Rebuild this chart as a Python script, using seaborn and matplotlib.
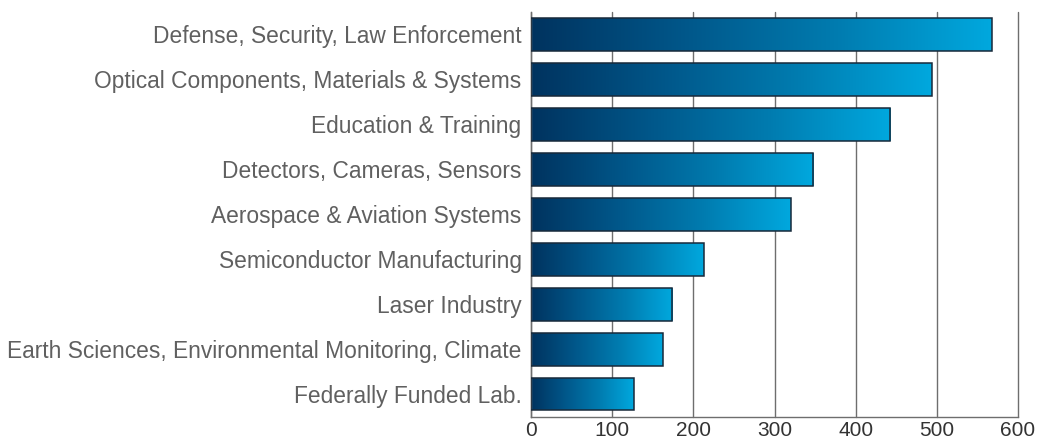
"""
Horizontal gradient bar chart - applications by industry
"""
import numpy as np
import pandas as pd
import matplotlib
matplotlib.use("Agg")
import matplotlib.pyplot as plt
import seaborn as sns
from matplotlib.colors import LinearSegmentedColormap

# Data
categories = [
    "Defense, Security, Law Enforcement",
    "Optical Components, Materials & Systems",
    "Education & Training",
    "Detectors, Cameras, Sensors",
    "Aerospace & Aviation Systems",
    "Semiconductor Manufacturing",
    "Laser Industry",
    "Earth Sciences, Environmental Monitoring, Climate",
    "Federally Funded Lab.",
]
counts = [568, 494, 443, 348, 320, 213, 174, 162, 127]
x_ticks = [0, 100, 200, 300, 400, 500, 600]

sns.set_style("white")
plt.rcParams["font.family"] = ["Liberation Sans", "DejaVu Sans"]

df = pd.DataFrame({"category": categories, "count": counts})

fig = plt.figure(figsize=(10.38, 4.42), dpi=100)
ax = fig.add_axes([0.5118, 0.0573, 0.4687, 0.9156])

sns.barplot(data=df, x="count", y="category", orient="h", ax=ax,
            width=0.725, color="#00a6dc", edgecolor="#18293a", linewidth=1.1,
            zorder=3)

# per-bar left-to-right gradient
cmap = LinearSegmentedColormap.from_list("blues", ["#00335f", "#00578a", "#007cb0", "#00a8de"])
grad = np.linspace(0, 1, 256).reshape(1, -1)
for p in ax.patches:
    x0, y0 = p.get_x(), p.get_y()
    w, h = p.get_width(), p.get_height()
    p.set_facecolor("none")
    im = ax.imshow(grad, cmap=cmap, aspect="auto", extent=[x0, x0 + w, y0 + h, y0],
                   zorder=2.5, interpolation="bicubic")
    im.set_clip_path(p)

ax.set_xlim(0, 600)
ax.set_ylim(len(categories) - 0.5, -0.5)
ax.set_xticks(x_ticks)
ax.set_xticklabels([str(t) for t in x_ticks])

ax.grid(axis="x", color="#6e6e6e", linewidth=1.0, zorder=0)
ax.set_axisbelow(True)
for gl in ax.get_xgridlines():
    gl.set_clip_on(False)
for s in ["top", "right"]:
    ax.spines[s].set_visible(False)
for s in ["left", "bottom"]:
    ax.spines[s].set_color("#6e6e6e")
    ax.spines[s].set_linewidth(1.0)

ax.tick_params(axis="x", length=3, color="#6e6e6e", labelsize=15, labelcolor="#333333", pad=0)
ax.tick_params(axis="y", length=0, labelsize=16.4, labelcolor="#606060", pad=7)
ax.set_xlabel("")
ax.set_ylabel("")

fig.savefig("out.png", dpi=100)
